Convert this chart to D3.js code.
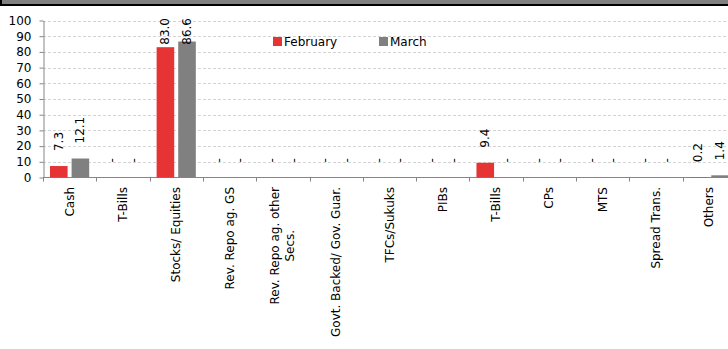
<!DOCTYPE html>
<html lang="en">
<head>
    <meta charset="UTF-8">
    <title>asset-allocation-bars</title>
    <style>
        body { margin: 0; background: #fff; }
        svg { display: block; font-family: "DejaVu Sans", sans-serif; }
    </style>
</head>
<body>
    <div id="container"></div>
    <script src="https://cdn.jsdelivr.net/npm/d3@7"></script>
    <script type="text/javascript">

        var categories = ["Cash", "T-Bills", "Stocks/ Equities", "Rev. Repo ag. GS",
            "Rev. Repo ag. other\nSecs.", "Govt. Backed/ Gov. Guar.", "TFCs/Sukuks",
            "PIBs", "T-Bills ", "CPs", "MTS", "Spread Trans.", "Others"];
        var series = ["February", "March"];
        var february = [7.3, 0, 83.0, 0, 0, 0, 0, 0, 9.4, 0, 0, 0, 0.2];
        var march = [12.1, 0, 86.6, 0, 0, 0, 0, 0, 0, 0, 0, 0, 1.4];
        var yTicks = [0, 10, 20, 30, 40, 50, 60, 70, 80, 90, 100];
        var colors = ["#e63333", "#808080"];

        var width = 728, height = 349;
        var plot = {left: 43, right: 736, top: 20.5, bottom: 177.5};

        var svg = d3.select("#container").append("svg")
            .attr("width", width)
            .attr("height", height);

        // header strip
        svg.append("rect").attr("x", 0).attr("y", 0).attr("width", width).attr("height", 4).attr("fill", "#808080");
        svg.append("rect").attr("x", 0).attr("y", 4).attr("width", width).attr("height", 2).attr("fill", "#000");
        svg.append("rect").attr("x", 0).attr("y", 0).attr("width", 2).attr("height", 6).attr("fill", "#000");

        var data = categories.map(function(c, i) {
            return {cat: c, values: [february[i], march[i]]};
        });

        var x0 = d3.scaleBand().domain(categories).range([plot.left, plot.right]).padding(0);
        var x1 = d3.scaleBand().domain(series).range([7, 46.2]).paddingInner(0.185);
        var y = d3.scaleLinear().domain([0, 100]).range([plot.bottom, plot.top]);

        // gridlines
        svg.append("g")
            .selectAll("line")
            .data(yTicks.slice(1))
            .enter().append("line")
            .attr("x1", plot.left).attr("x2", width)
            .attr("y1", function(d) { return Math.round(y(d)) + 0.5; })
            .attr("y2", function(d) { return Math.round(y(d)) + 0.5; })
            .attr("stroke", "#d4d4d4")
            .attr("stroke-dasharray", "3,2");

        // y axis
        var yAxis = svg.append("g")
            .attr("transform", "translate(" + (plot.left + 0.5) + ",0)")
            .call(d3.axisLeft(y).tickValues(yTicks).tickSize(4).tickPadding(8).tickSizeOuter(0));
        yAxis.selectAll("line, path").attr("stroke", "#868686");
        yAxis.selectAll("text").attr("font-size", 12).attr("fill", "#000")
            .attr("font-family", "DejaVu Sans, sans-serif");

        // x axis line and boundary ticks
        var xg = svg.append("g");
        xg.append("line")
            .attr("x1", plot.left).attr("x2", width)
            .attr("y1", plot.bottom).attr("y2", plot.bottom)
            .attr("stroke", "#868686");
        xg.selectAll(".xt")
            .data(categories)
            .enter().append("line")
            .attr("class", "xt")
            .attr("x1", function(d) { return Math.round(x0(d)) + 0.5; })
            .attr("x2", function(d) { return Math.round(x0(d)) + 0.5; })
            .attr("y1", plot.bottom).attr("y2", plot.bottom + 4)
            .attr("stroke", "#868686");

        // category labels
        var catLab = svg.append("g")
            .selectAll("g")
            .data(categories)
            .enter().append("g")
            .attr("transform", function(d) {
                return "translate(" + (x0(d) + x0.bandwidth() / 2) + "," + 187 + ") rotate(-90)";
            });
        catLab.each(function(d) {
            var g = d3.select(this);
            var lines = d.split("\n");
            var texts = lines.map(function(l, i) {
                return g.append("text")
                    .attr("y", (i - (lines.length - 1) / 2) * 15)
                    .attr("dominant-baseline", "central")
                    .attr("text-anchor", "middle")
                    .attr("font-size", 12)
                    .attr("fill", "#000")
                    .text(l);
            });
            var maxLen = d3.max(texts, function(t) { return t.node().getComputedTextLength(); });
            texts.forEach(function(t) { t.attr("x", -maxLen / 2); });
        });

        // bars
        var groups = svg.append("g")
            .selectAll("g")
            .data(data)
            .enter().append("g")
            .attr("transform", function(d) { return "translate(" + x0(d.cat) + ",0)"; });

        groups.selectAll("rect")
            .data(function(d) { return d.values.map(function(v, i) { return {key: series[i], value: v, i: i}; }); })
            .enter().append("rect")
            .attr("x", function(d) { return x1(d.key); })
            .attr("y", function(d) { return y(d.value); })
            .attr("width", x1.bandwidth())
            .attr("height", function(d) { return plot.bottom - y(d.value); })
            .attr("fill", function(d) { return colors[d.i]; });

        // value labels (rotated, kept inside the plot)
        groups.selectAll("text")
            .data(function(d) { return d.values.map(function(v, i) { return {key: series[i], value: v}; }); })
            .enter().append("text")
            .attr("dominant-baseline", "central")
            .attr("text-anchor", "start")
            .attr("font-size", 12)
            .attr("fill", "#000")
            .text(function(d) { return d.value === 0 ? "-" : d.value.toFixed(1); })
            .each(function(d) {
                var len = this.getComputedTextLength();
                var base = y(d.value) - 15;
                if (base - len < 18) base = 18 + len;
                d3.select(this).attr("transform", "translate(" + (x1(d.key) + x1.bandwidth() / 2) + "," + base + ") rotate(-90)");
            });

        // legend
        var legendPos = [273, 379];
        var legend = svg.append("g")
            .selectAll("g")
            .data(series)
            .enter().append("g")
            .attr("transform", function(d, i) { return "translate(" + legendPos[i] + ",37)"; });
        legend.append("rect")
            .attr("width", 9).attr("height", 9)
            .attr("fill", function(d, i) { return colors[i]; });
        legend.append("text")
            .attr("x", 11).attr("y", 4.5)
            .attr("dominant-baseline", "central")
            .attr("font-size", 12)
            .attr("fill", "#000")
            .text(function(d) { return d; });

    </script>
</body>
</html>
